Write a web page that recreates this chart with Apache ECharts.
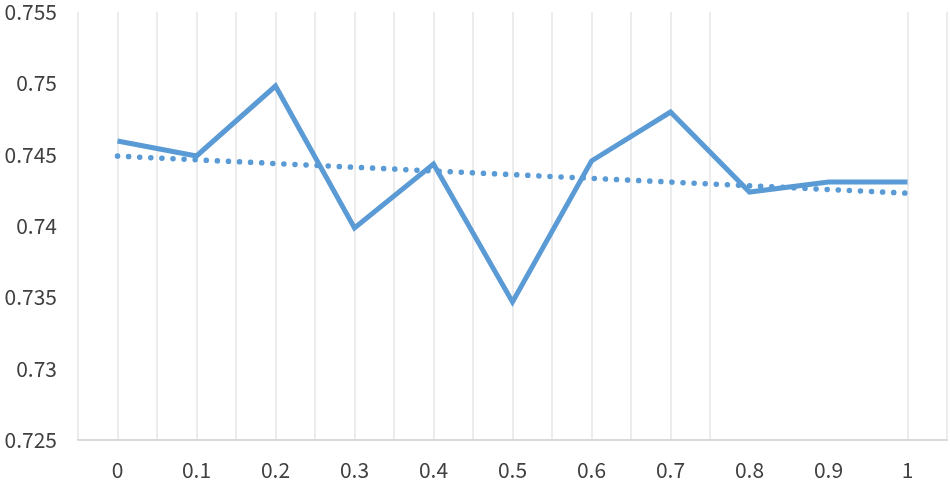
<!DOCTYPE html>
<html>
<head>
<meta charset="utf-8">
<script src="https://cdn.jsdelivr.net/npm/echarts@6/dist/echarts.min.js"></script>
<style>
  html, body { margin: 0; padding: 0; background: #fff; }
  #chart { width: 950px; height: 483px; }
</style>
</head>
<body>
<div id="chart"></div>
<script>
var categories = ['0', '0.1', '0.2', '0.3', '0.4', '0.5', '0.6', '0.7', '0.8', '0.9', '1'];
var values = [0.74596, 0.74491, 0.74981, 0.73986, 0.74435, 0.73467, 0.74456, 0.74799, 0.74238, 0.74308, 0.74308];
// trend line read at both ends
var trend = [0.7449, null, null, null, null, null, null, null, null, null, 0.7423];

// vertical grid lines at every half category, some missing on the right
var gridColors = [];
for (var i = 0; i <= 22; i++) {
    gridColors.push(i >= 17 && i <= 20 ? 'rgba(0,0,0,0)' : '#ececec');
}

var chart = echarts.init(document.getElementById('chart'), null, { renderer: 'canvas' });

var font = '"Noto Sans CJK JP", "Noto Sans", sans-serif';

chart.setOption({
    animation: false,
    grid: { left: 78, right: 3, top: 12, bottom: 43 },
    xAxis: [{
        type: 'category',
        data: categories,
        boundaryGap: true,
        axisLine: { lineStyle: { color: '#d9d9d9', width: 2 } },
        axisTick: { show: false },
        axisLabel: { color: '#404040', fontSize: 21, fontFamily: font, margin: 20 },
        splitLine: { show: false }
    }, {
        type: 'value',
        min: 0,
        max: 22,
        interval: 1,
        position: 'bottom',
        axisLine: { show: false },
        axisTick: { show: false },
        axisLabel: { show: false },
        splitLine: { show: true, lineStyle: { color: gridColors, width: 2 } }
    }],
    yAxis: {
        type: 'value',
        min: 0.725,
        max: 0.755,
        interval: 0.005,
        axisLine: { show: false },
        axisTick: { show: false },
        splitLine: { show: false },
        axisLabel: {
            color: '#404040', fontSize: 21, fontFamily: font, margin: 21,
            formatter: function (v) { return String(+v.toFixed(3)); }
        }
    },
    series: [{
        type: 'line',
        data: values,
        symbol: 'none',
        lineStyle: { color: '#5b9bd5', width: 5, join: 'miter' },
        z: 3
    }, {
        type: 'line',
        data: trend,
        connectNulls: true,
        symbol: 'none',
        lineStyle: { color: '#5b9bd5', width: 5.5, type: [0.1, 11], cap: 'round' },
        z: 2
    }]
});
</script>
</body>
</html>
